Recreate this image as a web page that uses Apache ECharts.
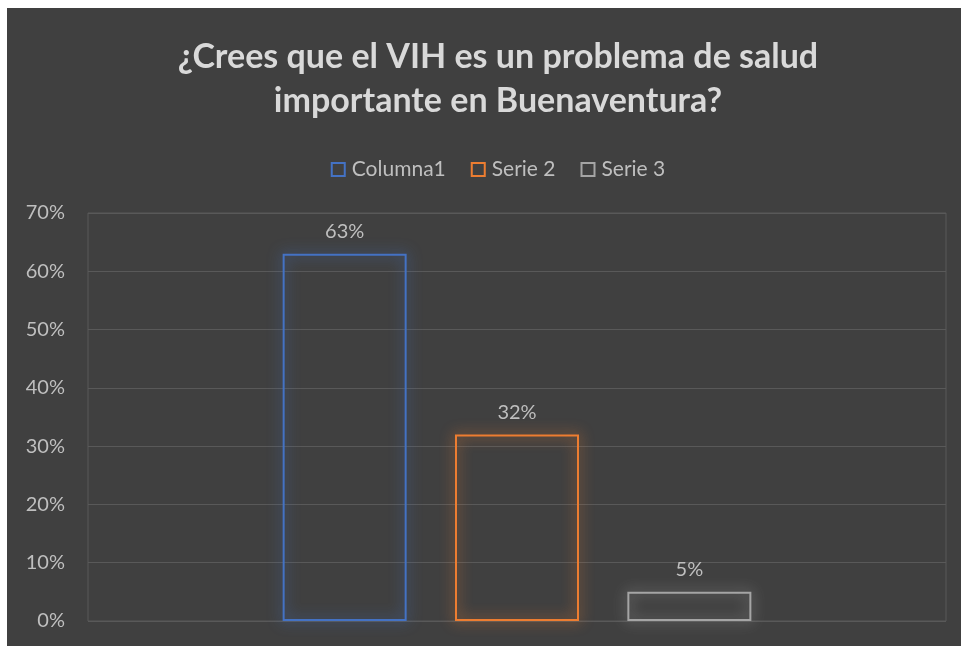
<!DOCTYPE html>
<html lang="es">
<head>
  <meta charset="utf-8">
  <title>VIH Buenaventura</title>
  <script src="https://cdn.jsdelivr.net/npm/echarts@6.0.0/dist/echarts.min.js"></script>
  <style>
    html, body { margin: 0; padding: 0; background: #ffffff; overflow: hidden; }
    /* the chart is a bit wider than the window: its centre sits at ~498px */
    #chart { position: absolute; left: 7px; top: 8px; width: 982px; height: 638px; }
  </style>
</head>
<body>
<div id="chart"></div>
<script>
  // data
  var categories = ['VIH'];
  var seriesNames = ['Columna1', 'Serie 2', 'Serie 3'];
  var seriesValues = [[63], [32], [5]];
  var seriesColors = ['#4472C4', '#ED7D31', '#A5A5A5'];
  var yTicks = [0, 10, 20, 30, 40, 50, 60, 70];

  var font = 'Lato, "Open Sans", sans-serif';
  var chart = echarts.init(document.getElementById('chart'));

  var series = seriesNames.map(function (name, i) {
    return {
      name: name,
      type: 'bar',
      data: seriesValues[i],
      barWidth: 124,
      barGap: '39%',
      itemStyle: {
        color: 'transparent',
        borderColor: seriesColors[i],
        borderWidth: 2,
        shadowBlur: 14,
        shadowColor: seriesColors[i]
      },
      label: {
        show: true,
        position: 'top',
        distance: 12,
        formatter: '{c}%',
        color: '#bfbfbf',
        fontSize: 20,
        fontFamily: font
      }
    };
  });

  var option = {
    backgroundColor: '#404040',
    title: {
      text: '¿Crees que el VIH es un problema de salud\nimportante en Buenaventura?',
      left: 'center',
      top: 22,
      textStyle: {
        color: '#d9d9d9',
        fontSize: 34,
        fontWeight: 'bold',
        fontFamily: font,
        lineHeight: 44
      }
    },
    legend: {
      data: seriesNames,
      top: 146,
      left: 'center',
      itemWidth: 13,
      itemHeight: 13,
      itemGap: 25,
      icon: 'rect',
      textStyle: { color: '#bfbfbf', fontSize: 21, fontFamily: font, padding: [0, 0, 0, 2] },
      itemStyle: { color: 'transparent', borderWidth: 2, shadowBlur: 0 }
    },
    grid: {
      left: 81,
      top: 205,
      right: 43,
      bottom: 25,
      show: true,
      borderColor: '#595959',
      borderWidth: 1
    },
    xAxis: {
      type: 'category',
      data: categories,
      axisLine: { show: false },
      axisTick: { show: false },
      axisLabel: { show: false }
    },
    yAxis: {
      type: 'value',
      min: yTicks[0],
      max: yTicks[yTicks.length - 1],
      interval: 10,
      axisLine: { show: false },
      axisTick: { show: false },
      axisLabel: {
        formatter: '{value}%',
        color: '#bfbfbf',
        fontSize: 20,
        fontFamily: font,
        margin: 23
      },
      splitLine: { lineStyle: { color: '#595959', width: 1 } }
    },
    series: series
  };

  chart.setOption(option);
</script>
</body>
</html>
